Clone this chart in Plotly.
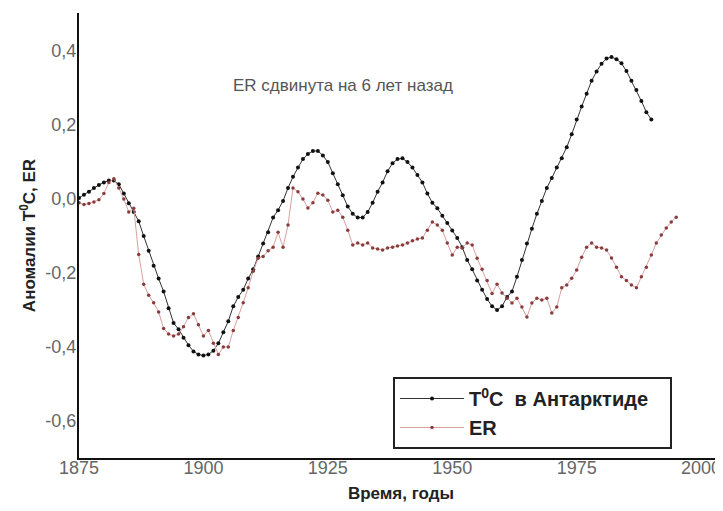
import plotly.graph_objects as go

# ---- data ----
years_t = list(range(1875, 1991))
t_antarctic = [
    0.003, 0.012, 0.02, 0.03, 0.038, 0.045, 0.05, 0.05, 0.04, 0.015,
    -0.011, -0.035, -0.06, -0.10, -0.14, -0.18, -0.215, -0.25, -0.295, -0.335,
    -0.352, -0.375, -0.395, -0.412, -0.42, -0.423, -0.42, -0.41, -0.39, -0.36,
    -0.33, -0.29, -0.265, -0.245, -0.215, -0.19, -0.155, -0.12, -0.09, -0.05,
    -0.03, -0.005, 0.03, 0.06, 0.085, 0.108, 0.122, 0.13, 0.13, 0.118,
    0.10, 0.07, 0.04, 0.01, -0.02, -0.04, -0.05, -0.05, -0.035, -0.01,
    0.02, 0.045, 0.075, 0.097, 0.108, 0.11, 0.10, 0.085, 0.065, 0.045,
    0.015, -0.01, -0.025, -0.045, -0.065, -0.085, -0.105, -0.13, -0.165, -0.19,
    -0.22, -0.245, -0.27, -0.29, -0.30, -0.29, -0.265, -0.25, -0.21, -0.165,
    -0.12, -0.08, -0.04, -0.005, 0.03, 0.057, 0.085, 0.11, 0.14, 0.175,
    0.215, 0.25, 0.285, 0.32, 0.345, 0.366, 0.38, 0.384, 0.378, 0.367,
    0.346, 0.32, 0.295, 0.265, 0.235, 0.215,
]

years_er = list(range(1875, 1996))
er_values = [
    -0.01, -0.015, -0.012, -0.008, -0.002, 0.015, 0.045, 0.055, 0.03, 0.0,
    -0.035, -0.025, -0.15, -0.23, -0.26, -0.28, -0.305, -0.35, -0.365, -0.37,
    -0.365, -0.345, -0.32, -0.31, -0.34, -0.37, -0.355, -0.39, -0.42, -0.40,
    -0.40, -0.355, -0.32, -0.28, -0.24, -0.195, -0.16, -0.155, -0.14, -0.13,
    -0.09, -0.13, -0.07, 0.03, 0.02, 0.0, -0.024, -0.01, 0.016, 0.011,
    -0.003, -0.035, -0.03, -0.049, -0.084, -0.124, -0.119, -0.124, -0.119, -0.132,
    -0.135, -0.138, -0.132, -0.13, -0.127, -0.124, -0.119, -0.113, -0.108, -0.105,
    -0.084, -0.062, -0.07, -0.084, -0.119, -0.151, -0.13, -0.132, -0.119, -0.124,
    -0.16, -0.19, -0.22, -0.255, -0.23, -0.254, -0.268, -0.281, -0.268, -0.292,
    -0.319, -0.281, -0.268, -0.273, -0.268, -0.308, -0.292, -0.24, -0.232, -0.214,
    -0.192, -0.157, -0.13, -0.119, -0.13, -0.132, -0.138, -0.159, -0.184, -0.21,
    -0.22, -0.232, -0.24, -0.21, -0.184, -0.151, -0.119, -0.097, -0.078, -0.062,
    -0.049,
]

x_ticks = [1875, 1900, 1925, 1950, 1975, 2000]
y_ticks = [0.4, 0.2, 0.0, -0.2, -0.4, -0.6]
y_ticktext = ["0,4", "0,2", "0,0", "-0,2", "-0,4", "-0,6"]

fig = go.Figure()
fig.add_trace(go.Scatter(
    x=years_t, y=t_antarctic, mode="lines+markers",
    name="<b>T<sup>0</sup>C  в Антарктиде</b>&nbsp;&nbsp;&nbsp;",
    line=dict(color="#333333", width=1),
    marker=dict(color="#111111", size=4),
))
fig.add_trace(go.Scatter(
    x=years_er, y=er_values, mode="lines+markers",
    name="<b>ER</b>",
    line=dict(color="#d9a0a0", width=1),
    marker=dict(color="#8a3c3c", size=3.5),
))

axis_font = dict(family="Liberation Sans, Arial, sans-serif", size=18, color="#666666")
title_font = dict(family="Liberation Sans, Arial, sans-serif", size=17, color="#222222")

# page body has an 8px margin, so the figure is sized 8px smaller
fig.update_layout(
    width=715, height=503,
    margin=dict(l=71, r=0, t=5, b=53),
    paper_bgcolor="white", plot_bgcolor="white",
    showlegend=True,
    legend=dict(
        x=0.4876, y=0.182, xanchor="left", yanchor="top",
        bordercolor="#222222", borderwidth=2,
        font=dict(family="Liberation Sans, Arial, sans-serif", size=20, color="#222222"),
        itemwidth=64, tracegroupgap=0,
        bgcolor="white",
    ),
    xaxis=dict(
        range=[1875, 2004.4], tickvals=x_ticks, showgrid=False, zeroline=False,
        showline=True, linecolor="#111111", linewidth=2, ticks="",
        tickfont=axis_font, ticklabelstandoff=-8, ticklabeloverflow="allow",
        automargin=False,
        title=dict(text="<b>Время, годы</b>", font=title_font, standoff=11),
    ),
    yaxis=dict(
        range=[-0.70, 0.503], tickvals=y_ticks, ticktext=y_ticktext,
        showgrid=False, zeroline=False,
        showline=True, linecolor="#111111", linewidth=2, ticks="",
        tickfont=axis_font, ticklabelstandoff=-3, ticklabeloverflow="allow",
        automargin=False,
        title=dict(text="<b>Аномалии T<sup>0</sup>C, ER</b>", font=title_font, standoff=5),
    ),
    annotations=[dict(
        x=0.236, y=0.836, xref="paper", yref="paper", xanchor="left", yanchor="middle",
        text="ER сдвинута на 6 лет назад", showarrow=False,
        font=dict(family="Liberation Sans, Arial, sans-serif", size=17, color="#555555"),
    )],
)

fig.write_html("out.html")
